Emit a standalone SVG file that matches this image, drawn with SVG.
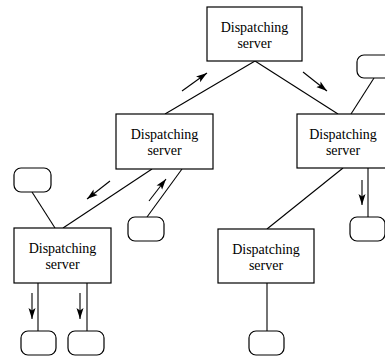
<svg xmlns="http://www.w3.org/2000/svg" width="385" height="358" viewBox="0 0 385 358">
<defs>
<style>
.box{fill:#fff;stroke:#000;stroke-width:1.2}
.rr{fill:#fff;stroke:#000;stroke-width:1.2}
.ln{stroke:#000;stroke-width:1.1;fill:none}
.ar{stroke:#000;stroke-width:1.1;fill:none;marker-end:url(#ah)}
text{font-family:"Liberation Serif","Times New Roman",serif;font-size:14px;fill:#000;text-anchor:middle}
</style>
<marker id="ah" markerUnits="userSpaceOnUse" markerWidth="12" markerHeight="8" refX="11" refY="4" orient="auto">
<path d="M0,0.5 L11,4 L0,7.5 L2.5,4 Z" fill="#000"/>
</marker>
</defs>
<rect width="385" height="358" fill="#fff"/>
<g id="connectors">
<line class="ln" x1="255" y1="61" x2="165" y2="114"/>
<line class="ln" x1="255" y1="61" x2="338" y2="114"/>
<line class="ln" x1="374" y1="78" x2="351" y2="114"/>
<line class="ln" x1="152" y1="169" x2="63" y2="228"/>
<line class="ln" x1="182" y1="169" x2="147" y2="217"/>
<line class="ln" x1="32" y1="192" x2="55" y2="228"/>
<line class="ln" x1="38" y1="283" x2="38" y2="331"/>
<line class="ln" x1="87" y1="283" x2="87" y2="331"/>
<line class="ln" x1="343" y1="168" x2="267" y2="229"/>
<line class="ln" x1="368" y1="168" x2="368" y2="217"/>
<line class="ln" x1="267" y1="283" x2="267" y2="331"/>
<line class="ar" x1="182" y1="91" x2="207" y2="73"/>
<line class="ar" x1="303" y1="72" x2="327" y2="91"/>
<line class="ar" x1="110" y1="181" x2="87" y2="199"/>
<line class="ar" x1="149" y1="201" x2="166" y2="179"/>
<line class="ar" x1="32" y1="293" x2="32" y2="319"/>
<line class="ar" x1="80" y1="293" x2="80" y2="319"/>
<line class="ar" x1="362" y1="180" x2="362" y2="205"/>
</g>
<g id="server-top">
<rect class="box" x="207" y="7" width="95" height="54"/>
<text x="254.5" y="32">Dispatching</text>
<text x="254.5" y="48">server</text>
</g>
<g id="server-left">
<rect class="box" x="116" y="114" width="97" height="55"/>
<text x="164.5" y="139">Dispatching</text>
<text x="164.5" y="155">server</text>
</g>
<g id="server-right">
<rect class="box" x="297" y="114" width="93" height="54"/>
<text x="343" y="139">Dispatching</text>
<text x="343" y="155">server</text>
</g>
<g id="server-bottom-left">
<rect class="box" x="14" y="228" width="97" height="55"/>
<text x="62.5" y="253">Dispatching</text>
<text x="62.5" y="269">server</text>
</g>
<g id="server-bottom-right">
<rect class="box" x="218" y="229" width="96" height="54"/>
<text x="266" y="254">Dispatching</text>
<text x="266" y="270">server</text>
</g>
<g id="client-top-right"><rect class="rr" x="357" y="55" width="36" height="23" rx="7"/></g>
<g id="client-left"><rect class="rr" x="14" y="168" width="37" height="24" rx="7"/></g>
<g id="client-mid"><rect class="rr" x="128" y="217" width="36" height="24" rx="7"/></g>
<g id="client-right"><rect class="rr" x="350" y="217" width="35" height="24" rx="7"/></g>
<g id="client-bl1"><rect class="rr" x="21" y="331" width="35" height="24" rx="7"/></g>
<g id="client-bl2"><rect class="rr" x="68" y="331" width="36" height="24" rx="7"/></g>
<g id="client-br"><rect class="rr" x="249" y="331" width="35" height="24" rx="7"/></g>
</svg>
